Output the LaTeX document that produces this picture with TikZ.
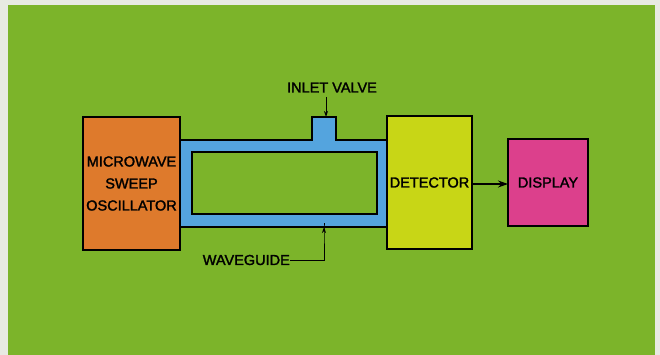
\documentclass[tikz,border=0pt]{standalone}
\usepackage{fontspec}
\setmainfont{Liberation Sans}
\newfontfamily\lblfont{Liberation Sans}[FakeBold=1.8]
\usetikzlibrary{arrows.meta}
\definecolor{bgedge}{RGB}{232,234,226}
\definecolor{bggreen}{RGB}{124,180,42}
\definecolor{oscorange}{RGB}{222,122,44}
\definecolor{wgblue}{RGB}{84,164,222}
\definecolor{detyellow}{RGB}{200,214,22}
\definecolor{dispmagenta}{RGB}{220,64,140}
\tikzset{
  blockbox/.style={draw=black, line width=1.1pt, inner sep=0pt, outer sep=0pt, align=center,
    font=\lblfont\fontsize{14.5}{22}\selectfont},
  lbl/.style={inner sep=0pt, font=\lblfont\fontsize{14.5}{16}\selectfont},
  ptr/.style={line width=0.9pt, -{Stealth[length=6pt,width=4pt]}},
  flow/.style={line width=1.1pt, -{Stealth[length=10pt,width=7pt]}}
}
\begin{document}
\begin{tikzpicture}[x=1pt,y=-1pt]
\useasboundingbox (0,0) rectangle (660,355);
\fill[bgedge] (0,0) rectangle (660,355);
\fill[bggreen] (8,5) rectangle (655,355);
% waveguide
\draw[line width=1.1pt, fill=wgblue, even odd rule]
  (180,140) -- (312,140) -- (312,117) -- (336,117) -- (336,140) -- (387,140)
  -- (387,227) -- (180,227) -- cycle
  (192,152) rectangle (377,214);
% blocks
\node[blockbox, fill=oscorange, minimum width=97pt, minimum height=133pt] (osc) at (131.5,183.5)
  {MICROWAVE\\SWEEP\\OSCILLATOR};
\node[blockbox, fill=detyellow, minimum width=85pt, minimum height=133pt] (det) at (429.5,182.5)
  {DETECTOR};
\node[blockbox, fill=dispmagenta, minimum width=80pt, minimum height=87pt] (disp) at (548,182.5)
  {DISPLAY};
\draw[flow] (det.east |- 0,184) -- (disp.west |- 0,184);
% labels
\node[lbl] (inlet) at (332,87.5) {INLET VALVE};
\coordinate (stubtop) at (326,117);
\draw[ptr] (326,97) -- (stubtop);
\node[lbl, anchor=east] (wg) at (290,260) {WAVEGUIDE};
\coordinate (wgbottom) at (324,227);
\draw[ptr] (wg.east) -- ++(34,0) |- (wgbottom);
\end{tikzpicture}
\end{document}
